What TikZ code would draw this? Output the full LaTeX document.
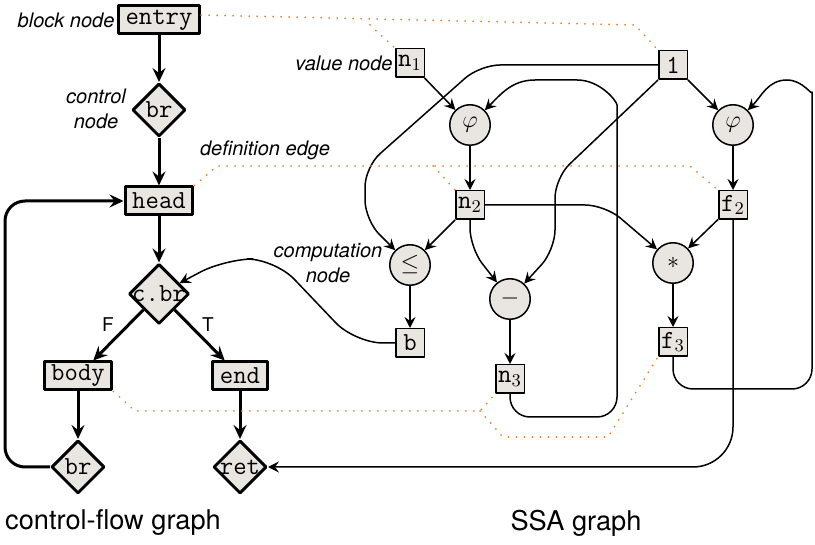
\documentclass[tikz,border=0pt]{standalone}
\usepackage{fontspec}
\setsansfont{TeX Gyre Heros}
\usetikzlibrary{shapes.geometric,arrows.meta}

\definecolor{nodefill}{RGB}{233,229,224}
\definecolor{deforange}{RGB}{240,128,40}

\tikzset{
  every picture/.style={line join=round},
  block/.style={draw, line width=1.5pt, fill=nodefill, font=\fontsize{13}{15}\selectfont\ttfamily,
    minimum height=14pt, inner xsep=3.6pt, inner ysep=0pt},
  ctrl/.style={diamond, draw, line width=1.5pt, fill=nodefill, font=\fontsize{13}{15}\selectfont\ttfamily,
    minimum size=26.5pt, inner sep=-2pt},
  val/.style={draw, line width=0.75pt, fill=nodefill, font=\fontsize{13}{15}\selectfont\ttfamily,
    minimum size=14.25pt, inner sep=0.5pt},
  comp/.style={circle, draw, line width=0.75pt, fill=nodefill, font=\fontsize{12}{14}\selectfont,
    minimum size=20.25pt, inner sep=0pt},
  flow/.style={line width=1.5pt, -{Stealth[length=7pt,width=6.5pt,inset=2.5pt]}},
  dep/.style={line width=0.75pt, -{Stealth[length=5.5pt,width=5.5pt,inset=2pt]}, rounded corners=10pt},
  defedge/.style={deforange, line width=1pt, dash pattern=on 0pt off 4pt, line cap=round},
  lbl/.style={font=\fontsize{10}{12.5}\selectfont\sffamily\itshape, inner sep=1pt},
  branch/.style={font=\fontsize{9.5}{11}\selectfont\sffamily, inner sep=0pt},
  title/.style={font=\fontsize{13.6}{16}\selectfont\sffamily, inner sep=0pt}
}

\begin{document}
\begin{tikzpicture}[x=0.5pt,y=0.5pt,yscale=-1]
\useasboundingbox (0,0) rectangle (815,545);

% control-flow graph
\node[block] (entry) at (159,20) {entry};
\node[ctrl] (brA) at (159,110) {br};
\node[block] (head) at (159,201) {head};
\node[ctrl, minimum size=30pt] (cbr) at (159,294) {c.br};
\node[block] (body) at (78,376) {body};
\node[block] (end) at (240,376) {end};
\node[ctrl] (brB) at (78,467) {br};
\node[ctrl] (ret) at (240,467) {ret};

\draw[flow] (entry) -- (brA);
\draw[flow] (brA) -- (head);
\draw[flow] (head) -- (cbr);
\draw[flow] (cbr) -- (body);
\draw[flow] (cbr) -- (end);
\draw[flow] (body) -- (brB);
\draw[flow] (end) -- (ret);
\draw[flow, rounded corners=10pt] (brB.west) -- (5,467) -- (5,201) -- (head.west);
\node[branch] (lF) at (108,325) {F};
\node[branch] (lT) at (208,325) {T};

% SSA graph
\node[val] (nOne) at (410,63) {n$_1$};
\node[val] (one) at (673,65) {1};
\node[comp] (phiA) at (470,125) {$\varphi$};
\node[comp] (phiB) at (733,125) {$\varphi$};
\node[val] (nTwo) at (470,205) {n$_2$};
\node[val] (fTwo) at (733,205) {f$_2$};
\node[comp] (le) at (410,265) {$\leq$};
\node[comp] (mul) at (673,263) {$*$};
\node[comp] (minus) at (510,299) {$-$};
\node[val] (b) at (410,343) {b};
\node[val] (fThree) at (673,342) {f$_3$};
\node[val] (nThree) at (510,379) {n$_3$};

\draw[dep] (nOne) -- (phiA);
\draw[dep] (one) -- (phiB);
\draw[dep] (phiA) -- (nTwo);
\draw[dep] (phiB) -- (fTwo);
\draw[dep] (nTwo) -- (le);
\draw[dep] (fTwo) -- (mul);
\draw[dep] (le) -- (b);
\draw[dep] (mul) -- (fThree);
\draw[dep] (minus) -- (nThree);
\draw[dep] (nTwo.south) -- (470,248) -- (minus);
\draw[dep] (one.south west) -- (555,178) -- (555,250) -- (minus);
\draw[dep] (one.west) -- (480,65) -- (365,167) -- (365,220) -- (le);
\draw[dep] (nTwo.east) -- (605,205) -- (mul);
% loops back to the phi nodes
\draw[dep] (nThree.south) -- (510,417) -- (617,417) -- (617,125) [sharp corners]
  to[out=-90,in=0] (577,80) -- (535,80) to[out=180,in=-45] (phiA.north east);
\draw[dep] (fThree.south) -- (673,389) -- (812,389) -- (812,112) [sharp corners]
  to[out=-90,in=0] (787,80) to[out=180,in=-45] (phiB.north east);
\draw[dep, rounded corners=20pt] (fTwo.south) -- (733,467) -- (ret.east);
\draw[dep, rounded corners=14pt] (b.west) -- (355,343) -- (275,259) -- (225,259) -- (cbr);

% definition edges
\coordinate (entrySplit) at (370,25);
\coordinate (headSplit) at (433,166);
\coordinate (bodySplit) at (480,411);
\draw[defedge] ([yshift=-2.5pt]entry.east) -- (635,25) -- (one.north west);
\draw[defedge] (entrySplit) -- (nOne.north west);
\draw[defedge] (head.north east) -- (217,166) -- (690,166) -- (fTwo.north west);
\draw[defedge] (headSplit) -- (nTwo.north west);
\draw[defedge] (body.south east) -- (135,411) -- (bodySplit) -- (nThree.south west);
\draw[defedge] (bodySplit) -- (503,437) -- (608,437) -- (fThree.south west);

% labels
\node[lbl, anchor=east] (lBlock) at (entry.west) {block node};
\node[lbl, align=center] (lCtrl) at (96,109) {control\\node};
\node[lbl] (lDef) at (265,150) {definition edge};
\node[lbl, anchor=east] (lVal) at (nOne.west) {value node};
\node[lbl, align=center] (lComp) at (328,263) {computation\\node};
\node[title] (tCfg) at (113,523) {control-flow graph};
\node[title] (tSsa) at (576,523) {SSA graph};

\end{tikzpicture}
\end{document}
